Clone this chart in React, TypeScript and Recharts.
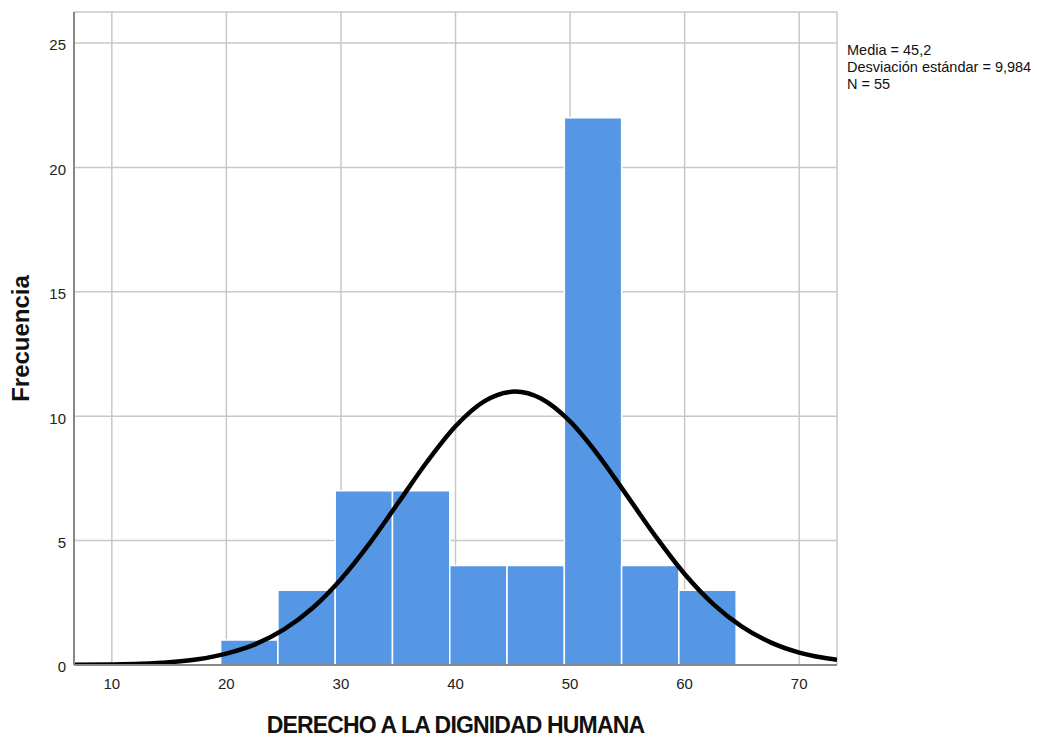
import React from "react";
import {
  ComposedChart,
  Line,
  XAxis,
  YAxis,
  CartesianGrid,
  ReferenceArea,
  Label,
} from "recharts";

// Histogram bins (lower/upper edges) and frequencies
const binLower = [19.5, 24.5, 29.5, 34.5, 39.5, 44.5, 49.5, 54.5, 59.5];
const binUpper = [24.5, 29.5, 34.5, 39.5, 44.5, 49.5, 54.5, 59.5, 64.5];
const frequencies = [1, 3, 7, 7, 4, 4, 22, 4, 3];

// Normal curve points
const curveX = [6.7, 10, 12.5, 15, 17.5, 20, 22.5, 25, 27.5, 30, 32.5, 35, 37.5, 40, 42.5, 45.2, 47.5, 50, 52.5, 55, 57.5, 60, 62.5, 65, 67.5, 70, 73.3];
const curveY = [0.007, 0.022, 0.05, 0.11, 0.23, 0.46, 0.83, 1.42, 2.28, 3.45, 4.89, 6.52, 8.16, 9.6, 10.6, 10.99, 10.7, 9.79, 8.41, 6.79, 5.15, 3.66, 2.45, 1.54, 0.91, 0.5, 0.21];

const xTicks = [10, 20, 30, 40, 50, 60, 70];
const yTicks = [0, 5, 10, 15, 20, 25];

const statsLines = ["Media = 45,2", "Desviación estándar = 9,984", "N = 55"];

const curveData = curveX.map((x, i) => ({ x, y: curveY[i] }));

const FONT = "'Liberation Sans', Arial, sans-serif";

export default function App() {
  return (
    <div style={{ position: "absolute", left: 0, top: 0, width: 1037, height: 744, background: "#fff", fontFamily: FONT }}>
      <ComposedChart
        width={1037}
        height={744}
        data={curveData}
        margin={{ top: 12, right: 200, bottom: 49, left: 14 }}
      >
        <CartesianGrid stroke="#c8c8c8" strokeWidth={1.5} />
        <XAxis
          type="number"
          dataKey="x"
          domain={[6.7, 73.3]}
          ticks={xTicks}
          allowDataOverflow
          height={30}
          tickLine={false}
          tickSize={6}
          tickMargin={7}
          axisLine={{ stroke: "#888", strokeWidth: 2 }}
          tick={{ fill: "#222", fontSize: 15, fontFamily: FONT }}
        >
          <Label
            value="DERECHO A LA DIGNIDAD HUMANA"
            position="bottom"
            offset={22}
            style={{ fill: "#111", fontSize: 23, fontWeight: "bold", letterSpacing: -0.85, fontFamily: FONT }}
          />
        </XAxis>
        <YAxis
          type="number"
          domain={[0, 26.25]}
          ticks={yTicks}
          allowDataOverflow
          width={60}
          tickLine={false}
          axisLine={{ stroke: "#888", strokeWidth: 2 }}
          tick={{ fill: "#222", fontSize: 15, fontFamily: FONT, dy: 2 }}
        >
          <Label
            value="Frecuencia"
            angle={-90}
            position="insideLeft"
            offset={6}
            style={{ fill: "#111", fontSize: 24, fontWeight: "bold", fontFamily: FONT, textAnchor: "middle" }}
          />
        </YAxis>
        {frequencies.map((f, i) => (
          <ReferenceArea
            key={i}
            x1={binLower[i]}
            x2={binUpper[i]}
            y1={0}
            y2={f}
            fill="#5596e5"
            fillOpacity={1}
            stroke="#ffffff"
            strokeWidth={1.5}
          />
        ))}
        <Line
          type="monotone"
          dataKey="y"
          stroke="#000"
          strokeWidth={4.5}
          dot={false}
          activeDot={false}
          isAnimationActive={false}
        />
      </ComposedChart>
      <div style={{ position: "absolute", left: 847, top: 42, fontSize: 14.5, lineHeight: "17px", color: "#111", fontFamily: FONT, whiteSpace: "nowrap" }}>
        {statsLines.map((s, i) => (
          <div key={i}>{s}</div>
        ))}
      </div>
    </div>
  );
}
